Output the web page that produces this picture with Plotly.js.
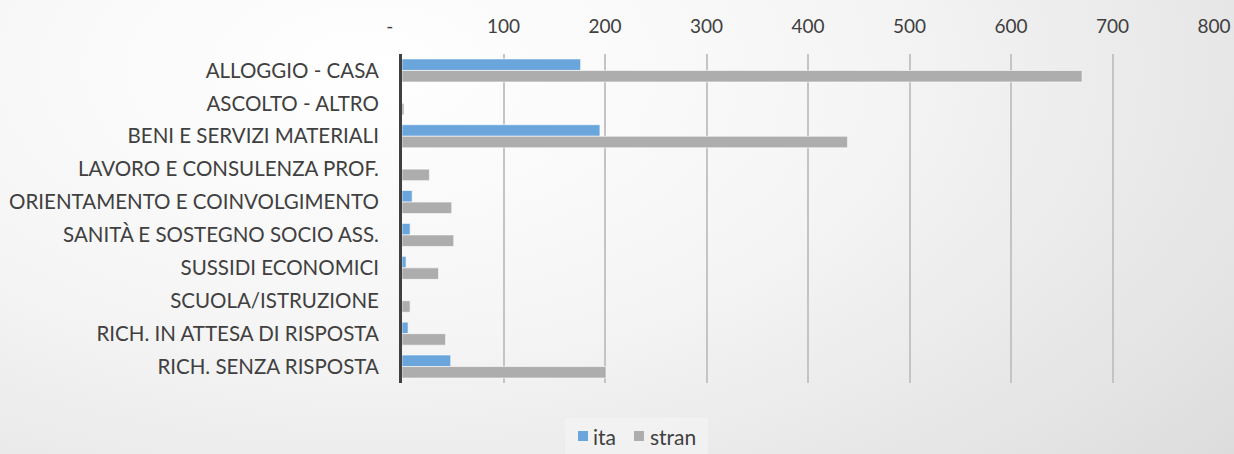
<!DOCTYPE html>
<html>
<head>
<meta charset="utf-8">
<script src="https://cdn.plot.ly/plotly-3.0.1.min.js"></script>
<style>
html,body{margin:0;padding:0;}
body{width:1234px;height:454px;background:radial-gradient(ellipse 100% 150% at 30% 15%, #ffffff 0%, #f5f5f5 40%, #e2e2e2 80%, #d6d6d6 100%);}
#chart{width:1234px;height:454px;}
</style>
</head>
<body>
<div id="chart"></div>
<script>
const categories = [
  "ALLOGGIO - CASA",
  "ASCOLTO - ALTRO",
  "BENI E SERVIZI MATERIALI",
  "LAVORO E CONSULENZA PROF.",
  "ORIENTAMENTO E COINVOLGIMENTO",
  "SANITÀ E SOSTEGNO SOCIO ASS.",
  "SUSSIDI ECONOMICI",
  "SCUOLA/ISTRUZIONE",
  "RICH. IN ATTESA DI RISPOSTA",
  "RICH. SENZA RISPOSTA"
];
const ita   = [176, 0, 195, 0, 10, 8, 4, 0, 6, 48];
const stran = [670, 2, 439, 27, 49, 51, 36, 8, 43, 201];
const tickVals = [0, 100, 200, 300, 400, 500, 600, 700, 800];
const tickText = ["-\u00a0\u00a0\u00a0\u00a0\u00a0", "100", "200", "300", "400", "500", "600", "700", "800"];
const seriesNames = ["ita", "stran"];
const seriesColors = ["#6aa5db", "#adadad"];

const font = "Lato, 'Open Sans', sans-serif";
const traces = [
  {type:"bar", orientation:"h", name:seriesNames[0], y:categories, x:ita,
   marker:{color:seriesColors[0], line:{color:"rgba(255,255,255,0.6)", width:1}}},
  {type:"bar", orientation:"h", name:seriesNames[1], y:categories, x:stran,
   marker:{color:seriesColors[1], line:{color:"rgba(255,255,255,0.6)", width:1}}}
];

const W = 1234, H = 454, mL = 402, mR = 20, mT = 54, mB = 71;
const pw = W - mL - mR, ph = H - mT - mB;
const px = x => (x - mL) / pw;
const py = y => (H - mB - y) / ph;
const shapes = [
  {type:"rect", xref:"paper", yref:"paper", x0:px(565), x1:px(708), y0:py(454), y1:py(418),
   fillcolor:"rgba(242,242,242,0.8)", line:{width:0}, layer:"below"},
  {type:"rect", xref:"paper", yref:"paper", x0:px(578), x1:px(588), y0:py(441), y1:py(431),
   fillcolor:seriesColors[0], line:{width:0}},
  {type:"rect", xref:"paper", yref:"paper", x0:px(634), x1:px(644), y0:py(441), y1:py(431),
   fillcolor:seriesColors[1], line:{width:0}}
];
const annotations = [
  {xref:"paper", yref:"paper", x:px(591), y:py(436), xanchor:"left", yanchor:"middle",
   text:seriesNames[0], showarrow:false, font:{family:font, size:21, color:"#404040"}},
  {xref:"paper", yref:"paper", x:px(648), y:py(436), xanchor:"left", yanchor:"middle",
   text:seriesNames[1], showarrow:false, font:{family:font, size:21, color:"#404040"}}
];

const layout = {
  width:W, height:H,
  paper_bgcolor:"rgba(0,0,0,0)", plot_bgcolor:"rgba(0,0,0,0)",
  margin:{l:mL, r:mR, t:mT, b:mB},
  barmode:"group", bargap:0.3, bargroupgap:0,
  font:{family:font, size:20, color:"#404040"},
  xaxis:{side:"top", range:[0,800], tickvals:tickVals, ticktext:tickText,
         showgrid:true, gridcolor:"#c4c4c4", gridwidth:2, zeroline:false,
         showline:false, ticks:"", ticklabelstandoff:16,
         tickfont:{family:font, size:19, color:"#404040"}},
  yaxis:{autorange:"reversed", showline:true, linecolor:"#404040", linewidth:3,
         showgrid:false, ticks:"", ticklabelstandoff:16,
         tickfont:{family:font, size:20.5, color:"#404040"}},
  showlegend:false,
  shapes:shapes,
  annotations:annotations
};
Plotly.newPlot("chart", traces, layout, {staticPlot:true, displayModeBar:false});
</script>
</body>
</html>
